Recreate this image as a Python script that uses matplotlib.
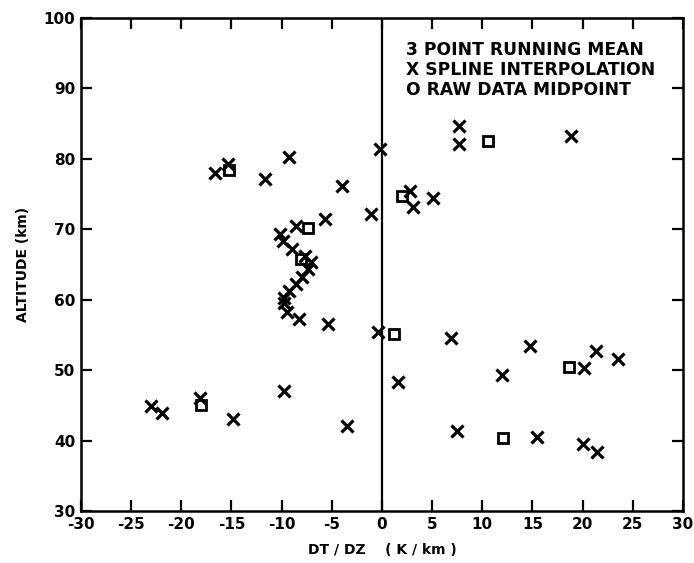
import numpy as np
import matplotlib
matplotlib.use('Agg')
import matplotlib.pyplot as plt

# spline interpolation points (DT/DZ in K/km, altitude in km)
spline_dtdz = [-23.0, -21.9, -18.1, -14.8, -9.8, -3.5, -0.4, 1.6,
               -16.6, -15.3, -9.3, -11.7, -4.0, -1.1, -5.7, -8.6, -10.2, -9.9, -9.0,
               -7.7, -7.1, -7.4, -8.0, -8.6, -9.3, -9.8, -9.8, -9.5, -8.3, -5.4,
               -0.2, 2.8, 3.1, 5.1, 7.7, 7.7, 18.8,
               6.9, 12.0, 14.8, 20.1, 21.3, 23.5, 7.5, 15.5, 20.0, 21.4]
spline_alt = [44.9, 43.9, 46.1, 43.0, 47.1, 42.1, 55.4, 48.3,
              78.0, 79.3, 80.2, 77.2, 76.1, 72.2, 71.5, 70.5, 69.3, 68.3, 67.2,
              66.2, 65.3, 64.3, 63.2, 62.2, 61.3, 60.2, 59.5, 58.2, 57.3, 56.5,
              81.4, 75.4, 73.2, 74.5, 84.7, 82.1, 83.2,
              54.6, 49.3, 53.4, 50.3, 52.7, 51.6, 41.4, 40.5, 39.5, 38.4]

# raw data midpoints
raw_dtdz = [-18.0, -15.2, -7.4, -8.1, 1.2, 2.0, 10.6, 18.6, 12.1]
raw_alt = [45.0, 78.4, 70.2, 65.8, 55.2, 74.7, 82.5, 50.5, 40.3]

xticks = [-30, -25, -20, -15, -10, -5, 0, 5, 10, 15, 20, 25, 30]
yticks = [30, 40, 50, 60, 70, 80, 90, 100]

plt.rcParams['font.family'] = ['DejaVu Sans']
plt.rcParams['font.weight'] = 'bold'

fig = plt.figure(figsize=(6.94, 5.63), dpi=100)
ax = fig.add_axes([0.1167, 0.0924, 0.984 - 0.1167, 0.968 - 0.0924])

ax.plot(spline_dtdz, spline_alt, linestyle='none', marker='x', color='black',
        markersize=8, markeredgewidth=2.3)
ax.plot(raw_dtdz, raw_alt, linestyle='none', marker='s', markerfacecolor='none',
        markeredgecolor='black', markersize=7, markeredgewidth=2.0)

ax.axvline(0, color='black', linewidth=1.6)

ax.set_xlim(-30, 30)
ax.set_ylim(30, 100)
ax.set_xticks(xticks)
ax.set_yticks(yticks)
ax.set_xticklabels([str(t) for t in xticks])
ax.set_yticklabels([str(t) for t in yticks])
ax.tick_params(direction='in', length=8, width=1.6, top=True, right=True,
               labelsize=11, pad=4)
for s in ax.spines.values():
    s.set_linewidth(1.8)

ax.set_xlabel('DT / DZ    ( K / km )', fontsize=10, fontweight='bold', labelpad=8)
ax.set_ylabel('ALTITUDE (km)', fontsize=10, fontweight='bold', labelpad=10)

# legend lines, written as plain text like the original
ax.text(0.54, 0.935, '3 POINT RUNNING MEAN', transform=ax.transAxes,
        fontsize=12.3, fontweight='bold', va='center')
ax.text(0.54, 0.895, 'X SPLINE INTERPOLATION', transform=ax.transAxes,
        fontsize=12.3, fontweight='bold', va='center')
ax.text(0.54, 0.853, 'O RAW DATA MIDPOINT', transform=ax.transAxes,
        fontsize=12.3, fontweight='bold', va='center')

fig.savefig('out.png', dpi=100)
